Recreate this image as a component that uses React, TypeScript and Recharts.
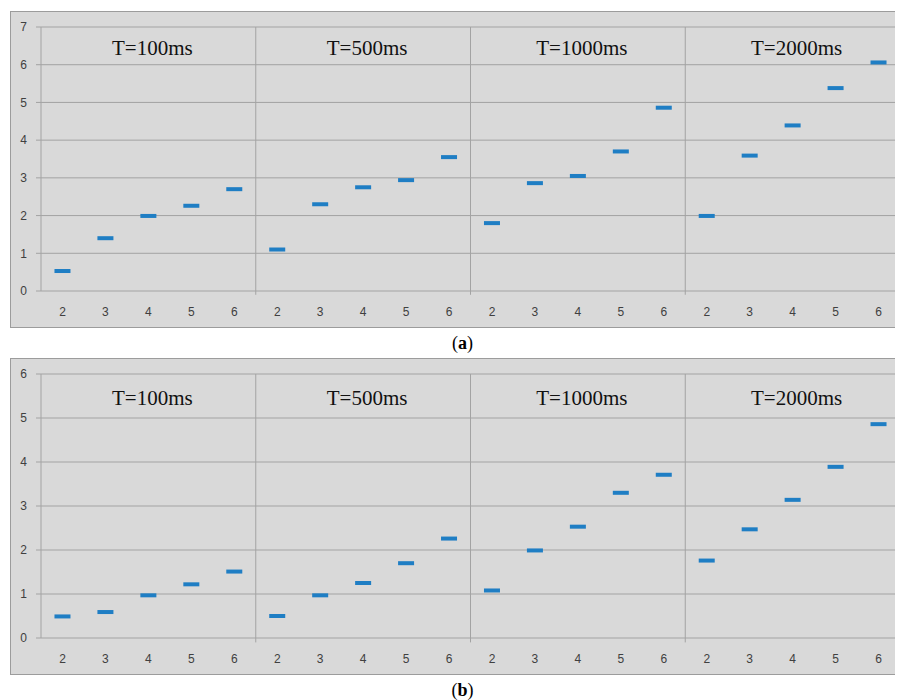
import { ComposedChart, Scatter, XAxis, YAxis, CartesianGrid, ReferenceLine, ReferenceArea } from 'recharts';

const groups = ['T=100ms', 'T=500ms', 'T=1000ms', 'T=2000ms'];
const nodes = [2, 3, 4, 5, 6];

// panel (a)
const a100 = [0.53, 1.4, 1.99, 2.26, 2.7];
const a500 = [1.1, 2.3, 2.75, 2.94, 3.55];
const a1000 = [1.8, 2.86, 3.05, 3.7, 4.86];
const a2000 = [1.99, 3.59, 4.39, 5.38, 6.06];

// panel (b)
const b100 = [0.49, 0.59, 0.97, 1.22, 1.51];
const b500 = [0.5, 0.97, 1.25, 1.7, 2.26];
const b1000 = [1.08, 1.99, 2.53, 3.3, 3.71];
const b2000 = [1.76, 2.47, 3.14, 3.89, 4.86];

const yTicksA = [0, 1, 2, 3, 4, 5, 6, 7];
const yTicksB = [0, 1, 2, 3, 4, 5, 6];

const GRID = '#a3a3a3';
const BLUE = '#1f7ec4';
const tickStyle = { fontSize: 12, fill: '#404040', fontFamily: 'Liberation Sans, Arial, sans-serif' };

const Dash = (props: any) => {
  const { cx, cy } = props;
  if (cx == null || cy == null) return null;
  return <rect x={cx - 8} y={cy - 2} width={16} height={4} fill={BLUE} />;
};

function Panel({ series, yTicks, labelY }: { series: number[][]; yTicks: number[]; labelY: [number, number] }) {
  const yMax = yTicks[yTicks.length - 1];
  const data = series.flatMap((vals, gi) => vals.map((v, ni) => ({ x: gi * nodes.length + ni + 0.5, y: v })));
  const n = groups.length * nodes.length;
  const xTicks = Array.from({ length: n }, (_, i) => i + 0.5);
  return (
    <div style={{ width: 891, height: 315, border: '1px solid #9c9c9c', background: '#d9d9d9' }}>
      <ComposedChart width={891} height={315} data={data} margin={{ top: 15, right: 2, bottom: 0, left: 0 }}>
        <CartesianGrid vertical={false} stroke={GRID} />
        <XAxis
          type="number"
          dataKey="x"
          domain={[0, n]}
          ticks={xTicks}
          interval={0}
          tickFormatter={(v: number) => String(nodes[Math.floor(v) % nodes.length])}
          axisLine={false}
          tickLine={false}
          tickSize={6}
          tickMargin={10}
          height={36}
          tick={tickStyle}
        />
        <YAxis
          type="number"
          domain={[0, yMax]}
          ticks={yTicks}
          interval={0}
          width={30}
          axisLine={{ stroke: GRID }}
          tickLine={{ stroke: GRID }}
          tickSize={5}
          tickMargin={9}
          tick={tickStyle}
        />
        {groups.map((g, gi) => (
          <ReferenceArea
            key={g}
            x1={gi * nodes.length}
            x2={(gi + 1) * nodes.length}
            y1={labelY[0]}
            y2={labelY[1]}
            fill="none"
            fillOpacity={0}
            stroke="none"
            label={{ value: g, position: 'center', fontSize: 21, fill: '#111', fontFamily: 'Liberation Serif, Times New Roman, serif', dx: 4, dy: 2 }}
          />
        ))}
        {[1, 2, 3].map((k) => (
          <ReferenceLine
            key={k}
            segment={[{ x: k * nodes.length, y: yMax }, { x: k * nodes.length, y: -0.1 }]}
            ifOverflow="visible"
            stroke={GRID}
          />
        ))}
        <ReferenceLine x={n} stroke={GRID} />
        <Scatter dataKey="y" shape={<Dash />} isAnimationActive={false} />
      </ComposedChart>
    </div>
  );
}

function Caption({ letter }: { letter: string }) {
  return (
    <div style={{ width: 905, height: 30, lineHeight: '30px', textAlign: 'center', fontFamily: 'Liberation Serif, Times New Roman, serif', fontSize: 18, color: '#000' }}>
      (<b>{letter}</b>)
    </div>
  );
}

export default function App() {
  return (
    <div style={{ paddingTop: 3, paddingLeft: 2, width: 905 }}>
      <Panel series={[a100, a500, a1000, a2000]} yTicks={yTicksA} labelY={[6, 7]} />
      <Caption letter="a" />
      <Panel series={[b100, b500, b1000, b2000]} yTicks={yTicksB} labelY={[5, 6]} />
      <Caption letter="b" />
    </div>
  );
}
